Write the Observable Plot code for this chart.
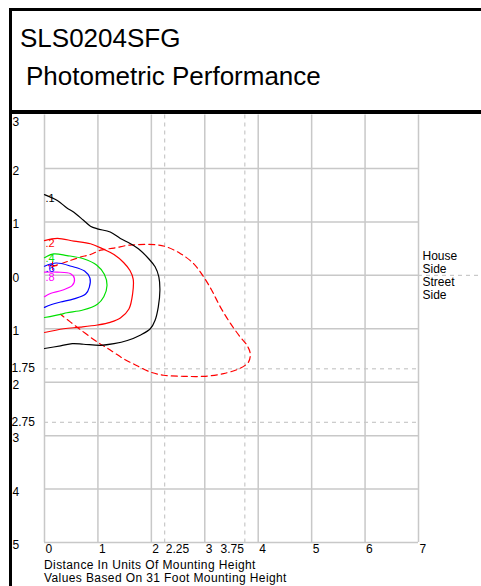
<!DOCTYPE html>
<html>
<head>
<meta charset="utf-8">
<script src="https://cdn.jsdelivr.net/npm/d3@7"></script>
<script src="https://cdn.jsdelivr.net/npm/@observablehq/plot@0.6"></script>
<style>
  html, body { margin: 0; padding: 0; background: #fff; }
  body { width: 481px; height: 586px; overflow: hidden; position: relative; font-family: "Liberation Sans", Arial, sans-serif; }
  #box { position: absolute; left: 9px; top: 8px; width: 600px; height: 106px; box-sizing: border-box;
         border: 3px solid #000; border-bottom-width: 4px; background: #fff; z-index: 2; }
  .t { position: absolute; font-size: 26px; line-height: 26px; color: #000; white-space: nowrap; }
  #leftbar { position: absolute; left: 9px; top: 8px; width: 3px; height: 578px; background: #000; z-index: 3; }
  #chart { position: absolute; left: 0; top: 112px; z-index: 1; }
  .cap { position: absolute; left: 44px; font-size: 12px; line-height: 13px; letter-spacing: 0.4px; white-space: nowrap; color: #000; }
</style>
</head>
<body>
<div id="box"></div>
<div class="t" style="left:20px; top:25px; z-index:4;">SLS0204SFG</div>
<div class="t" style="left:26px; top:63px; z-index:4;">Photometric Performance</div>
<div id="leftbar"></div>
<div id="chart"></div>
<div class="cap" style="top:559px;">Distance In Units Of Mounting Height<br>Values Based On 31 Foot Mounting Height</div>
<script>
// ---- data ----
const xGrid = [0, 1, 2, 3, 4, 5, 6, 7];
const yGrid = [2, 1, 0, -1, -2, -3, -4, -5];
const xDashedGrid = [2.25, 3.75];
const yDashedGrid = [-1.75, -2.75];

const xTickValues = [0, 1, 2, 2.25, 3, 3.75, 4, 5, 6, 7];
const xTickLabels = ["0", "1", "2", "2.25", "3", "3.75", "4", "5", "6", "7"];
const yTickValues = [3, 2, 1, 0, -1, -1.75, -2, -2.75, -3, -4, -5];
const yTickLabels = ["3", "2", "1", "0", "1", "1.75", "2", "2.75", "3", "4", "5"];

const contourLevels = [".1", ".2", ".4", ".6", ".8"];
const contourColors = ["#000000", "#ff0000", "#00e000", "#0000ff", "#ff00ff"];
const contour01 = [[0,1.51],[0.24,1.40],[0.42,1.26],[0.55,1.18],[0.73,1.03],[0.86,0.92],[0.99,0.87],[1.23,0.81],[1.42,0.69],[1.61,0.59],[1.79,0.47],[1.95,0.31],[2.07,0.16],[2.14,-0.03],[2.16,-0.28],[2.13,-0.59],[2.07,-0.84],[1.98,-1.0],[1.79,-1.12],[1.55,-1.22],[1.30,-1.28],[1.05,-1.31],[0.73,-1.29],[0.52,-1.28],[0.30,-1.32],[0,-1.37]];
const contour02 = [[0,0.65],[0.24,0.69],[0.55,0.64],[0.86,0.59],[1.08,0.50],[1.30,0.39],[1.48,0.24],[1.60,0.09],[1.66,-0.07],[1.65,-0.34],[1.58,-0.63],[1.42,-0.80],[1.23,-0.88],[0.99,-0.93],[0.67,-0.97],[0.36,-1.0],[0,-1.07]];
const contour04 = [[0,0.33],[0.17,0.40],[0.42,0.37],[0.73,0.31],[0.98,0.19],[1.12,0.02],[1.17,-0.19],[1.11,-0.40],[0.99,-0.54],[0.72,-0.65],[0.42,-0.70],[0.30,-0.73],[0,-0.79]];
const contour06 = [[0,0.17],[0.22,0.23],[0.50,0.17],[0.75,0.08],[0.85,-0.05],[0.84,-0.22],[0.77,-0.35],[0.55,-0.44],[0.30,-0.50],[0.12,-0.55],[0,-0.60]];
const contour08 = [[0,0.06],[0.24,0.06],[0.49,0.03],[0.56,-0.06],[0.52,-0.19],[0.33,-0.28],[0.11,-0.34],[0,-0.40]];
const halfMaxCurve = [[0.14,0.16],[0.49,0.28],[0.67,0.34],[0.86,0.39],[1.05,0.47],[1.30,0.51],[1.55,0.56],[1.67,0.57],[1.90,0.58],[2.11,0.57],[2.29,0.53],[2.54,0.41],[2.79,0.22],[2.98,-0.03],[3.13,-0.28],[3.29,-0.59],[3.48,-0.90],[3.66,-1.15],[3.79,-1.31],[3.85,-1.46],[3.82,-1.62],[3.66,-1.74],[3.35,-1.84],[2.98,-1.89],[2.60,-1.89],[2.23,-1.87],[1.98,-1.81],[1.67,-1.66],[1.51,-1.58],[1.17,-1.36],[0.99,-1.25],[0.61,-0.97],[0.30,-0.73]];
const labelYs = [1.48, 0.65, 0.36, 0.18, 0.01];
const maxPoint = [0.15, 0.18];
const sideLabel = "House\nSide\nStreet\nSide";

// ---- build tables ----
const contours = [contour01, contour02, contour04, contour06, contour08];
const contourRows = contours.flatMap((c, i) => c.map(([x, y]) => ({x, y, level: contourLevels[i], color: contourColors[i]})));
const halfRows = halfMaxCurve.map(([x, y]) => ({x, y}));
const labelRows = contourLevels.map((t, i) => ({x: 0, y: labelYs[i], t, color: contourColors[i]}));
const xTicks = xTickValues.map((v, i) => ({v, t: xTickLabels[i]}));
const yTicks = yTickValues.map((v, i) => ({v, t: yTickLabels[i]}));

const grid = "#c8c8c8";
const dashGrid = "#bdbdbd";

const chart = Plot.plot({
  width: 481,
  height: 446,
  marginTop: 2.5,
  marginBottom: 16,
  marginLeft: 44,
  marginRight: 63,
  x: {domain: [0, 7], axis: null},
  y: {domain: [-5, 3], axis: null},
  style: {fontFamily: "'Liberation Sans', Arial, sans-serif", fontSize: "12px", background: "transparent", overflow: "visible"},
  marks: [
    Plot.ruleX(xDashedGrid, {stroke: dashGrid, strokeWidth: 1, strokeDasharray: "4,4"}),
    Plot.ruleY(yDashedGrid, {stroke: dashGrid, strokeWidth: 1, strokeDasharray: "4,4"}),
    Plot.ruleY([0], {x1: 7, x2: 8.2, stroke: dashGrid, strokeWidth: 1, strokeDasharray: "4,4"}),
    Plot.ruleX(xGrid, {stroke: grid, strokeWidth: 1.5}),
    Plot.ruleY(yGrid, {stroke: grid, strokeWidth: 1.5}),
    Plot.line(halfRows, {x: "x", y: "y", stroke: "#ff0000", strokeWidth: 1.2, strokeDasharray: "6,4", curve: "catmull-rom"}),
    Plot.line(contourRows, {x: "x", y: "y", z: "level", stroke: "color", strokeWidth: 1.2, curve: "catmull-rom"}),
    Plot.dot([maxPoint], {x: d => d[0], y: d => d[1], symbol: "plus", r: 3, stroke: "#ff0000", strokeWidth: 1}),
    Plot.text(labelRows, {x: "x", y: "y", text: "t", fill: "color", textAnchor: "start", lineAnchor: "top", dx: 1, fontSize: 11, lineHeight: 0.8}),
    Plot.text(yTicks.filter(d => d.v === 3), {y: "v", text: "t", frameAnchor: "left", dx: -32, textAnchor: "start", lineAnchor: "top", dy: 2}),
    Plot.text(yTicks.filter(d => d.v !== 3 && d.t !== "1.75" && d.t !== "2.75"), {y: "v", text: "t", frameAnchor: "left", dx: -32, textAnchor: "start", lineAnchor: "top", dy: -2}),
    Plot.text(yTicks.filter(d => d.t === "1.75" || d.t === "2.75"), {y: "v", text: "t", frameAnchor: "left", dx: -33, textAnchor: "start", lineAnchor: "top", dy: -5}),
    Plot.text(xTicks.filter(d => d.t !== "3.75"), {x: "v", text: "t", frameAnchor: "bottom", textAnchor: "start", lineAnchor: "top", dx: 1, dy: 2}),
    Plot.text(xTicks.filter(d => d.t === "3.75"), {x: "v", text: "t", frameAnchor: "bottom", textAnchor: "end", lineAnchor: "top", dx: -1, dy: 2}),
    Plot.text([sideLabel], {x: 7, y: 0, text: d => d, textAnchor: "start", lineAnchor: "middle", dx: 4, dy: 0, lineHeight: 1.1})
  ]
});
document.getElementById("chart").appendChild(chart);
</script>
</body>
</html>
